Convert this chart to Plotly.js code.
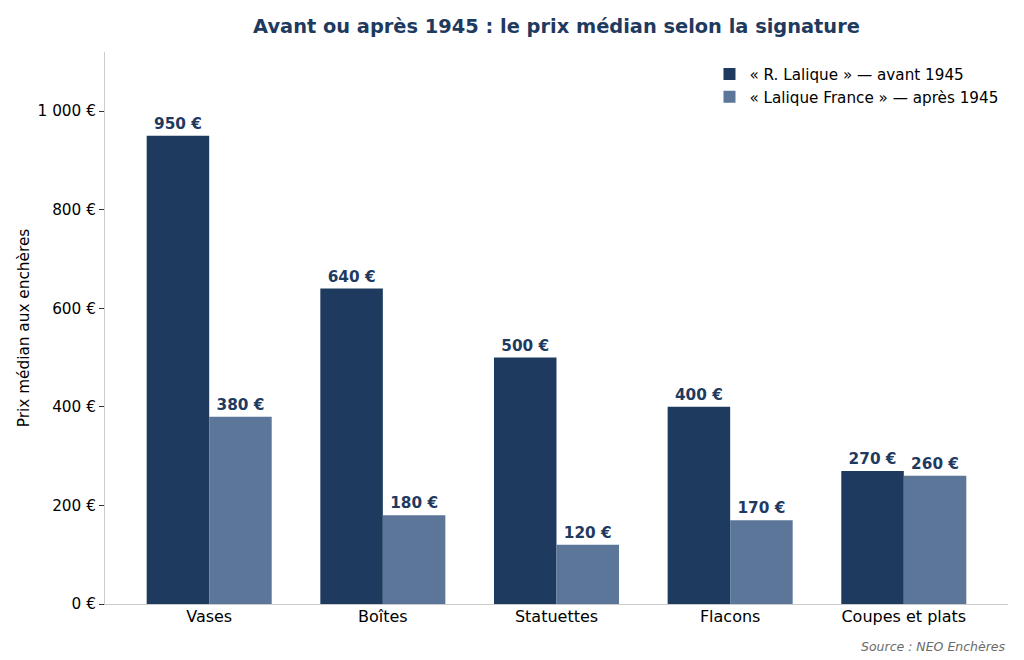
<!DOCTYPE html>
<html>
<head>
<meta charset="utf-8">
<script src="https://cdn.plot.ly/plotly-3.0.1.min.js"></script>
<style>html,body{margin:0;padding:0;background:#fff;}#chart{width:1024px;height:660px;}</style>
</head>
<body>
<div id="chart"></div>
<script>
var categories = ["Vases", "Boîtes", "Statuettes", "Flacons", "Coupes et plats"];
var avant1945 = [950, 640, 500, 400, 270];
var apres1945 = [380, 180, 120, 170, 260];
var yTickVals = [0, 200, 400, 600, 800, 1000];
var yTickText = ["0 €", "200 €", "400 €", "600 €", "800 €", "1 000 €"];

function euro(v) {
  return v.map(function (n) { return n + " €"; });
}

var font = "DejaVu Sans, sans-serif";

var data = [
  {
    x: categories,
    y: avant1945,
    type: "bar",
    name: "« R. Lalique » — avant 1945",
    marker: { color: "#1f3a5f" },
    text: euro(avant1945),
    textposition: "outside",
    cliponaxis: false,
    textfont: { family: font, size: 15.3, color: "#1f3a5f", weight: "bold" }
  },
  {
    x: categories,
    y: apres1945,
    type: "bar",
    name: "« Lalique France » — après 1945",
    marker: { color: "#5b7699" },
    text: euro(apres1945),
    textposition: "outside",
    cliponaxis: false,
    textfont: { family: font, size: 15.3, color: "#1f3a5f", weight: "bold" }
  }
];

var layout = {
  width: 1024,
  height: 660,
  margin: { l: 105, r: 16, t: 52, b: 56 },
  paper_bgcolor: "#ffffff",
  plot_bgcolor: "#ffffff",
  font: { family: font, size: 15, color: "#000" },
  title: {
    text: "<b>Avant ou après 1945 : le prix médian selon la signature</b>",
    font: { family: font, size: 19.4, color: "#1f3a5f" },
    x: 0.5,
    xref: "paper",
    y: 0.96,
    yanchor: "middle"
  },
  barmode: "group",
  bargap: 0.28,
  bargroupgap: 0,
  showlegend: true,
  legend: {
    x: 0.995,
    y: 0.99,
    xanchor: "right",
    yanchor: "top",
    bgcolor: "rgba(255,255,255,0)",
    font: { family: font, size: 15.2, color: "#000" },
    tracegroupgap: 0,
    itemwidth: 30
  },
  xaxis: {
    range: [-0.6, 4.6],
    showgrid: false,
    showline: true,
    linecolor: "#cccccc",
    linewidth: 1,
    ticks: "",
    ticklabelstandoff: -2,
    tickfont: { family: font, size: 16, color: "#000" },
    zeroline: false
  },
  yaxis: {
    range: [0, 1120],
    showgrid: false,
    showline: true,
    linecolor: "#cccccc",
    linewidth: 1,
    ticks: "outside",
    ticklen: 5,
    tickcolor: "#333",
    tickvals: yTickVals,
    ticktext: yTickText,
    tickfont: { family: font, size: 15.3, color: "#000" },
    zeroline: false,
    title: {
      text: "Prix médian aux enchères",
      font: { family: font, size: 15.3, color: "#000" },
      standoff: 4
    }
  },
  annotations: [
    {
      text: "<i>Source : NEO Enchères</i>",
      xref: "paper",
      yref: "paper",
      x: 1,
      y: -0.06,
      xanchor: "right",
      yanchor: "top",
      showarrow: false,
      font: { family: font, size: 12.5, color: "#6b6b6b" }
    }
  ]
};

Plotly.newPlot("chart", data, layout, { displayModeBar: false });
</script>
</body>
</html>
